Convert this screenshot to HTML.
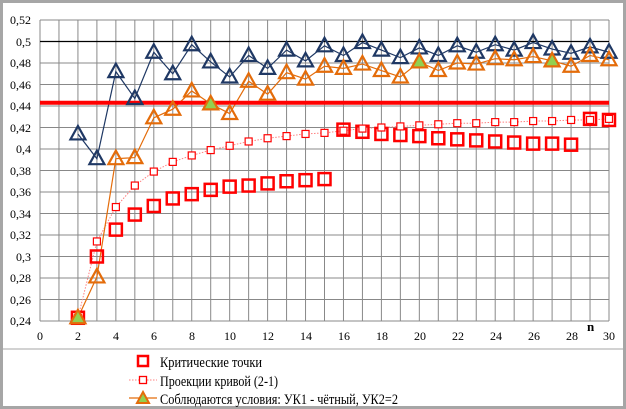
<!DOCTYPE html>
<html><head><meta charset="utf-8"><style>
html,body{margin:0;padding:0;background:#fff}
svg{display:block}
text{font-family:"Liberation Serif",serif}
</style></head><body>
<svg id="s" width="626" height="409" xmlns="http://www.w3.org/2000/svg">
<rect x="1.5" y="1.5" width="623" height="406" fill="#fff" stroke="#a6a6a6" stroke-width="3"/>
<line x1="2" y1="349" x2="624" y2="349" stroke="#a6a6a6" stroke-width="1"/>
<g id="grid"></g>
<g font-size="12" fill="#000" text-anchor="end">
<text x="31" y="24">0,52</text><text x="31" y="46">0,5</text><text x="31" y="67">0,48</text><text x="31" y="89">0,46</text><text x="31" y="110">0,44</text><text x="31" y="132">0,42</text><text x="31" y="153">0,4</text><text x="31" y="175">0,38</text><text x="31" y="196">0,36</text><text x="31" y="218">0,34</text><text x="31" y="239">0,32</text><text x="31" y="261">0,3</text><text x="31" y="282">0,28</text><text x="31" y="304">0,26</text><text x="31" y="325">0,24</text>
</g>
<g font-size="12" fill="#000" text-anchor="middle">
<text x="40" y="340">0</text><text x="78" y="340">2</text><text x="116" y="340">4</text><text x="154" y="340">6</text><text x="192" y="340">8</text><text x="230" y="340">10</text><text x="268" y="340">12</text><text x="306" y="340">14</text><text x="344" y="340">16</text><text x="382" y="340">18</text><text x="420" y="340">20</text><text x="458" y="340">22</text><text x="496" y="340">24</text><text x="534" y="340">26</text><text x="572" y="340">28</text><text x="609" y="340">30</text>
</g>
<text x="587" y="331" font-size="13" font-weight="bold">n</text>
<g id="data"></g>
<g font-size="15" fill="#000">
<rect x="138" y="356" width="10" height="10" fill="none" stroke="#f00" stroke-width="2.5"/>
<text x="160" y="367" textLength="102" lengthAdjust="spacingAndGlyphs">Критические точки</text>
<line x1="129" y1="380" x2="157" y2="380" stroke="#ff8080" stroke-width="1" stroke-dasharray="1.5,1.5"/>
<rect x="139.5" y="376.5" width="7" height="7" fill="#fff" stroke="#f00" stroke-width="1.3"/>
<text x="160" y="386" textLength="118" lengthAdjust="spacingAndGlyphs">Проекции кривой (2-1)</text>
<line x1="129" y1="398" x2="157" y2="398" stroke="#e46c0a" stroke-width="1.2"/>
<polygon points="143,392 149,403 137,403" fill="#92d050" stroke="#e46c0a" stroke-width="2"/>
<text x="160" y="404" textLength="238" lengthAdjust="spacingAndGlyphs">Соблюдаются условия: УК1 - чётный, УК2=2</text>
</g>
</svg>
<script>
var NS="http://www.w3.org/2000/svg";
function X(n){return 40+n*(569/30);}
function Y(v){return 20+(0.52-v)/0.02*21.5;}
function el(p,t,a){var e=document.createElementNS(NS,t);for(var k in a)e.setAttribute(k,a[k]);p.appendChild(e);return e;}
var g=document.getElementById('grid'),d=document.getElementById('data');
for(var i=0;i<=30;i++)el(g,'line',{x1:X(i),x2:X(i),y1:20,y2:321,stroke:'#888','stroke-width':1});
for(var j=0;j<=14;j++){var y=Y(0.52-j*0.02);el(g,'line',{x1:40,x2:609,y1:y,y2:y,stroke:'#888','stroke-width':1});}
el(d,'line',{x1:40,x2:609,y1:Y(0.5),y2:Y(0.5),stroke:'#000','stroke-width':1.2});
var blue=[0.414,0.391,0.472,0.447,0.490,0.470,0.497,0.481,0.467,0.487,0.475,0.492,0.482,0.496,0.487,0.499,0.492,0.485,0.494,0.487,0.496,0.490,0.497,0.492,0.499,0.493,0.489,0.495,0.490];
var or=[0.243,0.281,0.391,0.392,0.429,0.437,0.454,0.442,0.433,0.463,0.451,0.471,0.465,0.477,0.475,0.479,0.473,0.467,0.481,0.473,0.480,0.479,0.484,0.483,0.486,0.482,0.477,0.487,0.483];
var green={2:1,9:1,20:1,27:1};
var crit=[0.243,0.300,0.325,0.339,0.347,0.354,0.358,0.362,0.365,0.366,0.368,0.370,0.371,0.372,0.418,0.416,0.414,0.413,0.412,0.410,0.409,0.408,0.407,0.406,0.405,0.405,0.404,0.428,0.427];
var proj=[0.243,0.314,0.346,0.366,0.379,0.388,0.394,0.399,0.403,0.407,0.410,0.412,0.414,0.415,0.417,0.419,0.420,0.421,0.422,0.423,0.424,0.424,0.425,0.425,0.426,0.426,0.427,0.427,0.428];
function pts(a){return a.map(function(v,i){return X(i+2)+','+Y(v)}).join(' ');}
el(d,'polyline',{points:pts(proj),fill:'none',stroke:'#ff8080','stroke-width':1,'stroke-dasharray':'1.5,1.5'});
el(d,'polyline',{points:pts(or),fill:'none',stroke:'#e46c0a','stroke-width':1.2});
el(d,'polyline',{points:pts(blue),fill:'none',stroke:'#1f3864','stroke-width':1.2});
el(d,'line',{x1:40,x2:609,y1:Y(0.443),y2:Y(0.443),stroke:'#f00','stroke-width':4});
function tri(x,y,f,s){el(d,'polygon',{points:(x)+','+(y-8)+' '+(x+7.5)+','+(y+5.5)+' '+(x-7.5)+','+(y+5.5),fill:f,stroke:s,'stroke-width':2.2});}
crit.forEach(function(v,i){el(d,'rect',{x:X(i+2)-6,y:Y(v)-6,width:12,height:12,fill:'none',stroke:'#f00','stroke-width':2.5});});
proj.forEach(function(v,i){el(d,'rect',{x:X(i+2)-3.5,y:Y(v)-3.5,width:7,height:7,fill:'#fff',stroke:'#f00','stroke-width':1.2});});
blue.forEach(function(v,i){tri(X(i+2),Y(v),'none','#1f3864');});
or.forEach(function(v,i){var n=i+2;tri(X(n),Y(v),green[n]?'#92d050':'none','#e46c0a');});
</script>
</body></html>
